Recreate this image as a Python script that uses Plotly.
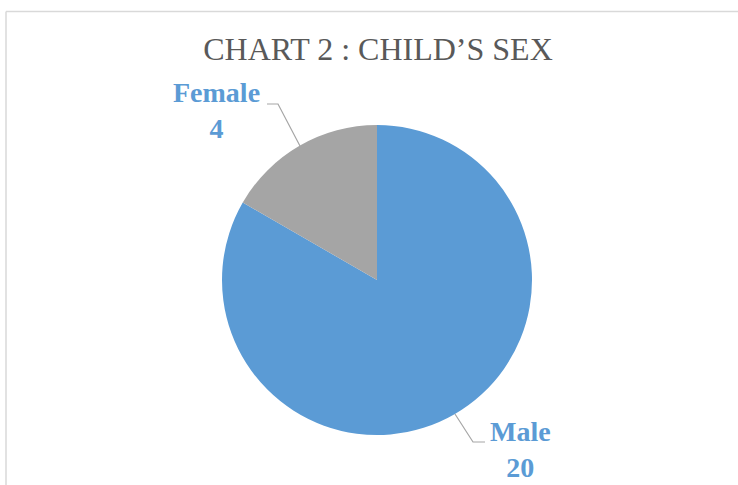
import plotly.graph_objects as go

# Data
categories = ["Male", "Female"]
counts = [20, 4]
colors = ["#5B9BD5", "#A5A5A5"]
title_text = "CHART 2 : CHILD’S SEX"

W, H = 738, 485

def px(x):
    return x / W

def py(y):
    return 1 - y / H

fig = go.Figure()
fig.add_trace(go.Pie(
    labels=categories,
    values=counts,
    marker=dict(colors=colors, line=dict(width=0)),
    sort=False,
    direction="clockwise",
    rotation=0,
    textinfo="none",
    hoverinfo="label+value",
    showlegend=False,
    domain=dict(x=[px(222), px(532)], y=[py(435), py(125)]),
))

label_font = dict(family="Liberation Serif", size=28, color="#5B9BD5")
# label positions (text placement only)
label_pos = {"Male": (520, 449), "Female": (216, 111)}
for cat, val in zip(categories, counts):
    x, y = label_pos[cat]
    fig.add_annotation(
        x=px(x), y=py(y), xref="paper", yref="paper",
        text=f"<b>{cat}</b><br><b>{val}</b>",
        showarrow=False, font=label_font, align="center",
        xanchor="center", yanchor="middle",
    )

line_style = dict(color="#A6A6A6", width=1.2)
# leader lines
fig.add_shape(type="path", xref="paper", yref="paper",
              path=f"M {px(267)} {py(104)} L {px(278)} {py(104)} L {px(300)} {py(146)}",
              line=line_style)
fig.add_shape(type="path", xref="paper", yref="paper",
              path=f"M {px(455)} {py(414)} L {px(473)} {py(442)} L {px(485)} {py(442)}",
              line=line_style)

# chart frame (cropped)
frame = dict(color="#D9D9D9", width=1.5)
fig.add_shape(type="line", xref="paper", yref="paper",
              x0=px(6), x1=1.0, y0=py(11.5), y1=py(11.5), line=frame)
fig.add_shape(type="line", xref="paper", yref="paper",
              x0=px(6), x1=px(6), y0=py(11.5), y1=0.0, line=frame)

fig.update_layout(
    width=W, height=H,
    margin=dict(l=0, r=0, t=0, b=0),
    paper_bgcolor="white",
    plot_bgcolor="white",
    title=dict(text=title_text, x=px(378), y=py(49), xanchor="center", yanchor="middle",
               font=dict(family="Liberation Serif", size=32, color="#595959")),
)

fig.write_html("out.html",
               config={"displayModeBar": False},
               post_script="document.body.style.margin='0';document.body.style.padding='0';document.body.style.overflow='hidden';")
